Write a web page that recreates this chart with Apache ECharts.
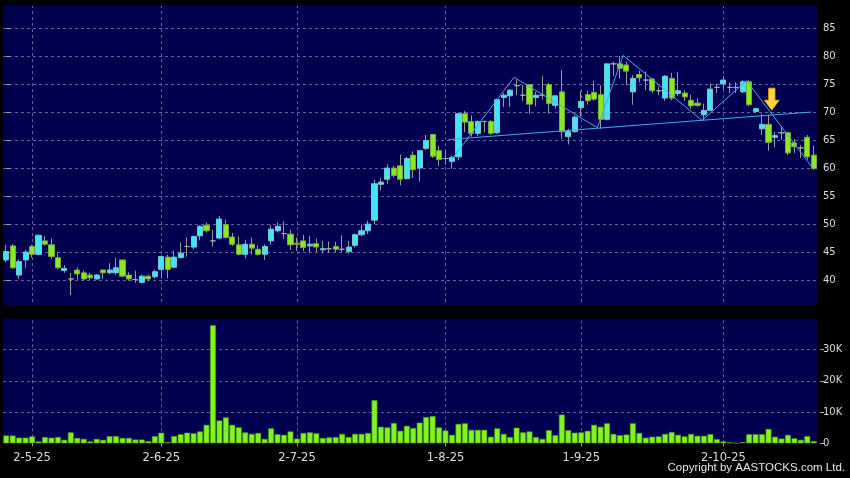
<!DOCTYPE html>
<html>
<head>
<meta charset="utf-8">
<script src="https://cdn.jsdelivr.net/npm/echarts@6/dist/echarts.min.js"></script>
<style>
html, body { margin: 0; padding: 0; background: #000; }
#chart { width: 850px; height: 478px; }
</style>
</head>
<body>
<div id="chart"></div>
<script>
// daily OHLC
const open = [
  43.6, 46.1, 40.9, 43.6, 46.0, 44.6, 47.0, 46.3, 44.0, 41.7,
  40.2, 41.8, 41.3, 40.9, 40.2, 41.8, 41.3, 41.3, 43.6, 40.9,
  40.1, 39.6, 40.7, 40.6, 41.9, 44.1, 42.3, 44.0, 46.0, 45.9,
  47.9, 49.8, 47.0, 47.5, 49.9, 47.7, 46.3, 44.6, 46.4, 45.5,
  44.6, 47.0, 48.8, 48.3, 48.2, 46.6, 47.0, 46.1, 46.5, 45.4,
  45.6, 46.0, 45.5, 45.1, 46.2, 48.1, 48.8, 50.7, 57.1, 58.0,
  60.0, 60.4, 58.1, 62.3, 60.0, 63.5, 66.0, 63.1, 61.7, 61.2,
  62.0, 69.7, 68.3, 66.2, 68.3, 68.3, 66.3, 72.6, 72.9, 74.7,
  73.0, 74.9, 72.6, 73.0, 74.9, 71.2, 73.6, 65.6, 66.5, 70.8,
  73.1, 73.5, 73.1, 68.7, 78.6, 78.6, 78.4, 73.6, 76.7, 75.7,
  75.9, 73.8, 72.5, 76.0, 73.3, 73.4, 72.1, 71.6, 69.5, 70.3,
  74.4, 75.0, 74.4, 74.4, 73.6, 75.4, 70.1, 67.0, 67.8, 65.5,
  66.3, 66.3, 64.5, 63.6, 65.5, 62.3
];
const close = [
  45.1, 42.2, 43.3, 45.0, 44.6, 48.0, 46.4, 44.2, 42.2, 42.1,
  40.2, 41.1, 40.2, 40.4, 40.9, 41.3, 41.8, 42.2, 40.7, 40.2,
  40.1, 40.7, 40.2, 41.5, 44.2, 41.9, 44.1, 44.8, 46.0, 47.8,
  49.6, 48.8, 47.0, 50.9, 47.6, 46.4, 44.6, 46.4, 45.7, 44.6,
  46.0, 49.1, 49.6, 48.3, 46.3, 46.4, 45.8, 46.4, 45.9, 45.6,
  45.6, 45.5, 45.5, 45.9, 48.1, 48.8, 50.0, 57.2, 57.5, 60.0,
  58.7, 58.0, 61.7, 59.7, 63.1, 64.9, 62.1, 61.5, 61.7, 61.9,
  69.7, 68.2, 66.2, 68.3, 68.3, 66.2, 72.2, 73.0, 73.9, 74.7,
  73.0, 71.4, 73.0, 73.0, 71.5, 72.9, 66.5, 66.5, 69.1, 71.9,
  72.0, 72.3, 68.7, 78.6, 78.6, 77.8, 77.3, 76.0, 76.1, 75.7,
  73.8, 73.8, 76.4, 72.5, 73.8, 72.7, 71.1, 71.2, 70.3, 74.1,
  74.4, 75.7, 74.4, 74.4, 75.4, 71.3, 70.6, 67.8, 64.6, 65.8,
  66.3, 62.7, 63.8, 63.6, 62.0, 59.9
];
const low = [
  43.2, 42.0, 40.2, 42.2, 44.0, 44.4, 46.1, 43.8, 41.9, 41.3,
  37.3, 40.1, 39.9, 40.0, 40.1, 40.2, 41.1, 41.0, 40.5, 39.9,
  39.5, 39.4, 39.8, 40.3, 40.3, 40.3, 42.1, 43.9, 44.2, 45.5,
  47.1, 48.5, 46.0, 47.3, 47.4, 46.1, 44.4, 43.9, 44.6, 44.4,
  43.6, 46.3, 48.5, 47.3, 45.4, 45.2, 45.2, 45.0, 45.0, 44.8,
  44.9, 45.0, 45.0, 44.7, 45.8, 47.8, 48.2, 50.0, 56.0, 57.2,
  58.3, 56.9, 58.0, 58.2, 57.6, 63.2, 61.8, 60.4, 60.6, 59.9,
  61.4, 66.4, 65.6, 65.7, 66.4, 65.9, 66.1, 70.9, 70.9, 73.0,
  72.0, 69.7, 71.0, 72.2, 69.7, 70.6, 65.2, 64.2, 66.3, 69.2,
  71.3, 72.0, 67.0, 68.5, 76.4, 76.0, 74.8, 71.3, 75.3, 73.9,
  73.4, 73.0, 72.0, 72.1, 72.9, 72.0, 70.6, 70.9, 68.6, 70.2,
  73.4, 74.1, 73.4, 73.4, 73.4, 71.0, 69.8, 65.9, 63.1, 63.7,
  65.0, 62.3, 62.7, 61.8, 61.5, 59.7
];
const high = [
  46.3, 46.4, 43.7, 45.4, 46.3, 48.1, 47.9, 47.4, 44.8, 42.7,
  41.3, 42.3, 41.7, 41.3, 41.1, 41.9, 43.0, 44.0, 43.6, 41.4,
  41.7, 41.0, 41.0, 41.9, 44.4, 44.5, 45.3, 46.7, 47.6, 47.9,
  49.8, 50.3, 49.0, 51.4, 50.8, 48.4, 47.8, 47.2, 47.6, 46.2,
  46.4, 49.8, 50.3, 50.5, 49.0, 47.6, 48.1, 47.9, 47.4, 47.0,
  46.9, 46.8, 48.0, 47.0, 48.3, 49.9, 50.6, 57.9, 58.2, 60.7,
  60.4, 62.4, 62.0, 63.0, 63.2, 65.9, 66.1, 64.0, 63.2, 62.2,
  69.9, 70.2, 69.4, 68.5, 68.5, 68.6, 72.4, 73.4, 74.1, 75.8,
  74.8, 75.0, 73.6, 76.4, 75.2, 73.0, 77.5, 67.0, 69.4, 73.8,
  73.8, 75.5, 74.8, 78.7, 79.0, 80.0, 79.0, 76.6, 77.4, 77.2,
  76.1, 74.6, 76.6, 77.0, 77.1, 73.9, 73.1, 72.4, 71.5, 75.1,
  75.1, 76.4, 75.3, 75.3, 75.7, 75.7, 70.8, 69.7, 69.5, 66.5,
  67.4, 66.5, 65.2, 64.1, 65.9, 64.0
];
const volume = [
  2500, 2500, 1800, 1800, 2200, 600, 2000, 1800, 2000, 1100,
  3500, 1700, 1400, 600, 1400, 1100, 2300, 2300, 1700, 1700,
  1200, 1200, 700, 2300, 3400, 400, 2300, 2900, 3400, 3200,
  3800, 5900, 37800, 7300, 8300, 5900, 5100, 3500, 3000, 3300,
  1400, 4800, 2900, 2700, 3800, 1500, 3300, 3500, 3200, 1700,
  1900, 2000, 3000, 2000, 3000, 3000, 3300, 13800, 5300, 5100,
  6500, 4000, 5600, 4900, 6600, 8400, 8700, 5100, 4100, 2700,
  6200, 6400, 4300, 4300, 4300, 2100, 4800, 3000, 2000, 5000,
  3500, 3800, 2000, 1400, 4200, 2600, 9200, 4200, 3400, 3500,
  4000, 5900, 5300, 6400, 3000, 2600, 2800, 6400, 3300, 1800,
  2100, 2200, 3000, 3600, 2700, 2200, 3000, 2400, 2400, 2900,
  1300, 600, 300, 100, 400, 2900, 2900, 2900, 4600, 2100,
  1500, 2700, 1600, 1100, 2300, 700
];

// x-axis labels: day index -> label
const tickIdx = [4, 24, 45, 68, 89, 111];
const tickLabels = ['2-5-25', '2-6-25', '2-7-25', '1-8-25', '1-9-25', '2-10-25'];

// hand-drawn trend lines [day index, price]
const zigzag = [[69.0, 61.6], [78.6, 76.2], [91.5, 67.2], [95.5, 80.1], [107.7, 68.5], [114.6, 75.6], [124.9, 59.9]];
const support = [[68.5, 65.1], [124.6, 70.0]];
const arrowAt = [[118.5, 72.3]];

const days = open.map((_, i) => String(i));
const ohlc = open.map((o, i) => [o, close[i], low[i], high[i]]);
const bodies = open.map((o, i) => [o, close[i], Math.min(o, close[i]), Math.max(o, close[i])]);

const navy = '#000050';
const gridColor = '#62629a';
const labelColor = '#dcdcdc';
const font = 'DejaVu Sans';

const isTick = (i) => tickIdx.indexOf(i) >= 0;
const vLines = {
  silent: true, symbol: 'none', z: 1,
  label: { show: false },
  lineStyle: { color: gridColor, type: [3, 3], width: 1 },
  data: tickIdx.map(i => ({ xAxis: i }))
};

const chart = echarts.init(document.getElementById('chart'));
chart.setOption({
  backgroundColor: '#000',
  animation: false,
  graphic: [
    { type: 'rect', z: -10, shape: { x: 3, y: 6, width: 814, height: 299 }, style: { fill: navy } },
    { type: 'rect', z: -10, shape: { x: 3, y: 318.4, width: 814, height: 124.9 }, style: { fill: navy } },
    { type: 'rect', z: 100, shape: { x: 0, y: 305, width: 818, height: 13.4 }, style: { fill: '#000' } },
    { type: 'rect', z: 100, shape: { x: 0, y: 0, width: 818, height: 6 }, style: { fill: '#000' } },
    {
      type: 'text', z: 100, right: 5, top: 462,
      style: { text: 'Copyright by AASTOCKS.com Ltd.', fill: '#e6e6e6', font: '11.5px "Liberation Sans"' }
    }
  ],
  grid: [
    { left: 3, top: -1.1, width: 814, height: 309.2 },
    { left: 3, top: 318.4, width: 814, height: 124.9 }
  ],
  xAxis: [
    {
      type: 'category', gridIndex: 0, data: days, boundaryGap: true,
      axisLine: { show: false }, axisTick: { show: false }, axisLabel: { show: false }, splitLine: { show: false }
    },
    {
      type: 'category', gridIndex: 1, data: days, boundaryGap: true, position: 'bottom', offset: 3,
      axisLine: { show: false },
      axisTick: { show: true, alignWithLabel: true, length: 3, interval: (i) => isTick(i), lineStyle: { color: '#aaaaaa' } },
      axisLabel: {
        interval: (i) => isTick(i), margin: 6, color: labelColor, fontSize: 11.5, fontFamily: font,
        formatter: (v, i) => tickLabels[tickIdx.indexOf(i)] || ''
      },
      splitLine: { show: false }
    },
    { type: 'value', gridIndex: 0, min: -0.5, max: 125.5, show: false }
  ],
  yAxis: [
    {
      type: 'value', gridIndex: 0, position: 'right', min: 35, max: 90, interval: 5, offset: 3,
      axisLine: { show: false },
      axisTick: { show: true, length: 4, lineStyle: { color: '#aaaaaa' } },
      axisLabel: { margin: 3, color: labelColor, fontSize: 10, fontFamily: font, showMinLabel: false, showMaxLabel: false },
      splitLine: {
        show: true,
        lineStyle: { type: [3, 3], color: ['transparent', gridColor, gridColor, gridColor, gridColor, gridColor, gridColor, gridColor, gridColor, gridColor, gridColor, 'transparent'] }
      }
    },
    {
      type: 'value', gridIndex: 1, position: 'right', min: 0, max: 40000, interval: 10000, offset: 3,
      axisLine: { show: false },
      axisTick: { show: true, length: 4, lineStyle: { color: '#aaaaaa' } },
      axisLabel: {
        margin: 3, color: labelColor, fontSize: 10, fontFamily: font, showMaxLabel: false,
        formatter: (v) => v === 0 ? '0' : (v / 1000) + 'K'
      },
      splitLine: {
        show: true,
        lineStyle: { type: [3, 3], color: ['transparent', gridColor, gridColor, gridColor, 'transparent'] }
      }
    }
  ],
  series: [
    {
      name: 'wick', type: 'candlestick', xAxisIndex: 0, yAxisIndex: 0, data: ohlc, barWidth: 1, z: 2,
      itemStyle: { color: '#9a9a9a', color0: '#9a9a9a', borderColor: '#9a9a9a', borderColor0: '#9a9a9a', borderColorDoji: '#9a9a9a', borderWidth: 1 },
      markLine: vLines
    },
    {
      name: 'body', type: 'candlestick', xAxisIndex: 0, yAxisIndex: 0, data: bodies, barWidth: 5.6, z: 3,
      itemStyle: { color: '#3ee6f6', color0: '#88ea22', borderColor: '#78c4cc', borderColor0: '#78a83a', borderColorDoji: '#ababab', borderWidth: 1 }
    },
    {
      name: 'support', type: 'line', xAxisIndex: 2, yAxisIndex: 0, data: support, symbol: 'none', z: 5,
      lineStyle: { color: '#4aa8ec', width: 1 }
    },
    {
      name: 'zigzag', type: 'line', xAxisIndex: 2, yAxisIndex: 0, data: zigzag, symbol: 'none', z: 5,
      lineStyle: { color: '#4aa8ec', width: 1 }
    },
    {
      name: 'arrow', type: 'scatter', xAxisIndex: 2, yAxisIndex: 0, data: arrowAt, z: 6,
      symbol: 'path://M4,0 L10,0 L10,12 L14,12 L7,22 L0,12 L4,12 Z', symbolSize: [15, 22],
      itemStyle: { color: '#ffd83a', borderColor: '#f0a400', borderWidth: 0.8, opacity: 1 }
    },
    {
      name: 'volume', type: 'bar', xAxisIndex: 1, yAxisIndex: 1, data: volume, barWidth: '90%',
      itemStyle: { color: '#80f420', borderColor: '#4d9c15', borderWidth: 0.6 },
      markLine: vLines
    }
  ]
});
</script>
</body>
</html>
